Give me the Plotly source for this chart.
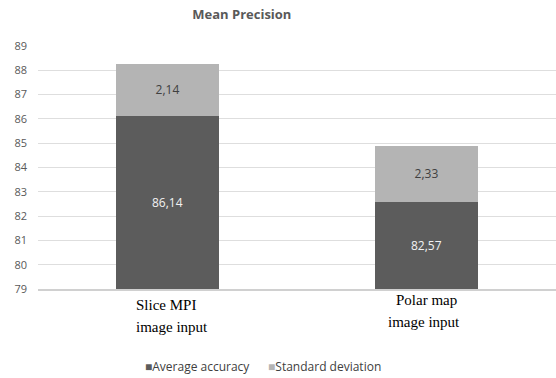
import plotly.graph_objects as go

categories = [["Slice MPI", "image input"], ["Polar map", "image input"]]
average_accuracy = [86.14, 82.57]
standard_deviation = [2.14, 2.33]
y_ticks = list(range(79, 90))
y_min, y_max = 79, 89

DARK = "#5c5c5c"
LIGHT = "#b4b4b4"

def fmt(v):
    return f"{v:.2f}".replace(".", ",")

x_pos = [0, 1]

fig = go.Figure()
fig.add_trace(go.Bar(
    x=x_pos, y=average_accuracy, name="Average accuracy",
    marker=dict(color=DARK, line=dict(width=0)), width=0.4,
    hoverinfo="skip",
))
fig.add_trace(go.Bar(
    x=x_pos, y=standard_deviation, name="Standard deviation",
    marker=dict(color=LIGHT, line=dict(width=0)), width=0.4,
    text=[fmt(v) for v in standard_deviation], textposition="inside",
    insidetextanchor="middle",
    textfont=dict(color="#404040", size=12, family="Open Sans"),
    hoverinfo="skip",
))

# value labels for the base segment, centred on the visible part of the bar
for xi, v in zip(x_pos, average_accuracy):
    fig.add_annotation(x=xi, y=(y_min + v) / 2, xref="x", yref="y",
                       text=fmt(v), showarrow=False,
                       font=dict(color="#f2f2f2", size=12, family="Open Sans"))

# category labels under the axis, set in a serif face, one line per annotation
label_font = dict(family="Liberation Serif", size=15, color="#000")
# first category: left-aligned block
for line, shift in zip(categories[0], [-16, -38]):
    fig.add_annotation(x=0, y=0, xref="x", yref="paper", xshift=-34, yshift=shift,
                       text=line, showarrow=False, xanchor="left", yanchor="middle",
                       font=label_font)
# second category: centred block
for line, shift, xs in zip(categories[1], [-11, -33], [0, -3]):
    fig.add_annotation(x=1, y=0, xref="x", yref="paper", xshift=xs, yshift=shift,
                       text=line, showarrow=False, xanchor="center", yanchor="middle",
                       font=label_font)

# legend row
legend_text = (f"<span style='color:{DARK}'>■</span>Average accuracy"
               f"      <span style='color:{LIGHT}'>■</span>Standard deviation")
fig.add_annotation(x=0.435, y=-0.32, xref="paper", yref="paper",
                   text=legend_text, showarrow=False,
                   xanchor="center", yanchor="middle",
                   font=dict(family="Open Sans", size=12, color="#404040"))

fig.update_layout(
    width=556, height=378,
    barmode="stack",
    plot_bgcolor="white", paper_bgcolor="white",
    margin=dict(l=38, r=0, t=46, b=89),
    title=dict(text="<b>Mean Precision</b>", x=0.435, xanchor="center",
               y=0.962, yanchor="middle",
               font=dict(family="Open Sans", size=13, color="#595959")),
    showlegend=False,
    xaxis=dict(range=[-0.5, 1.5], tickvals=x_pos, showticklabels=False,
               showgrid=False, showline=True, linecolor="#d0d0d0", linewidth=2,
               zeroline=False),
    yaxis=dict(range=[y_min, y_max], tickvals=y_ticks, showgrid=True,
               gridcolor="#dedede", gridwidth=1, zeroline=False,
               ticks="", ticklabelstandoff=10,
               tickfont=dict(family="Open Sans", size=11, color="#595959")),
)

fig.write_html("out.html")
